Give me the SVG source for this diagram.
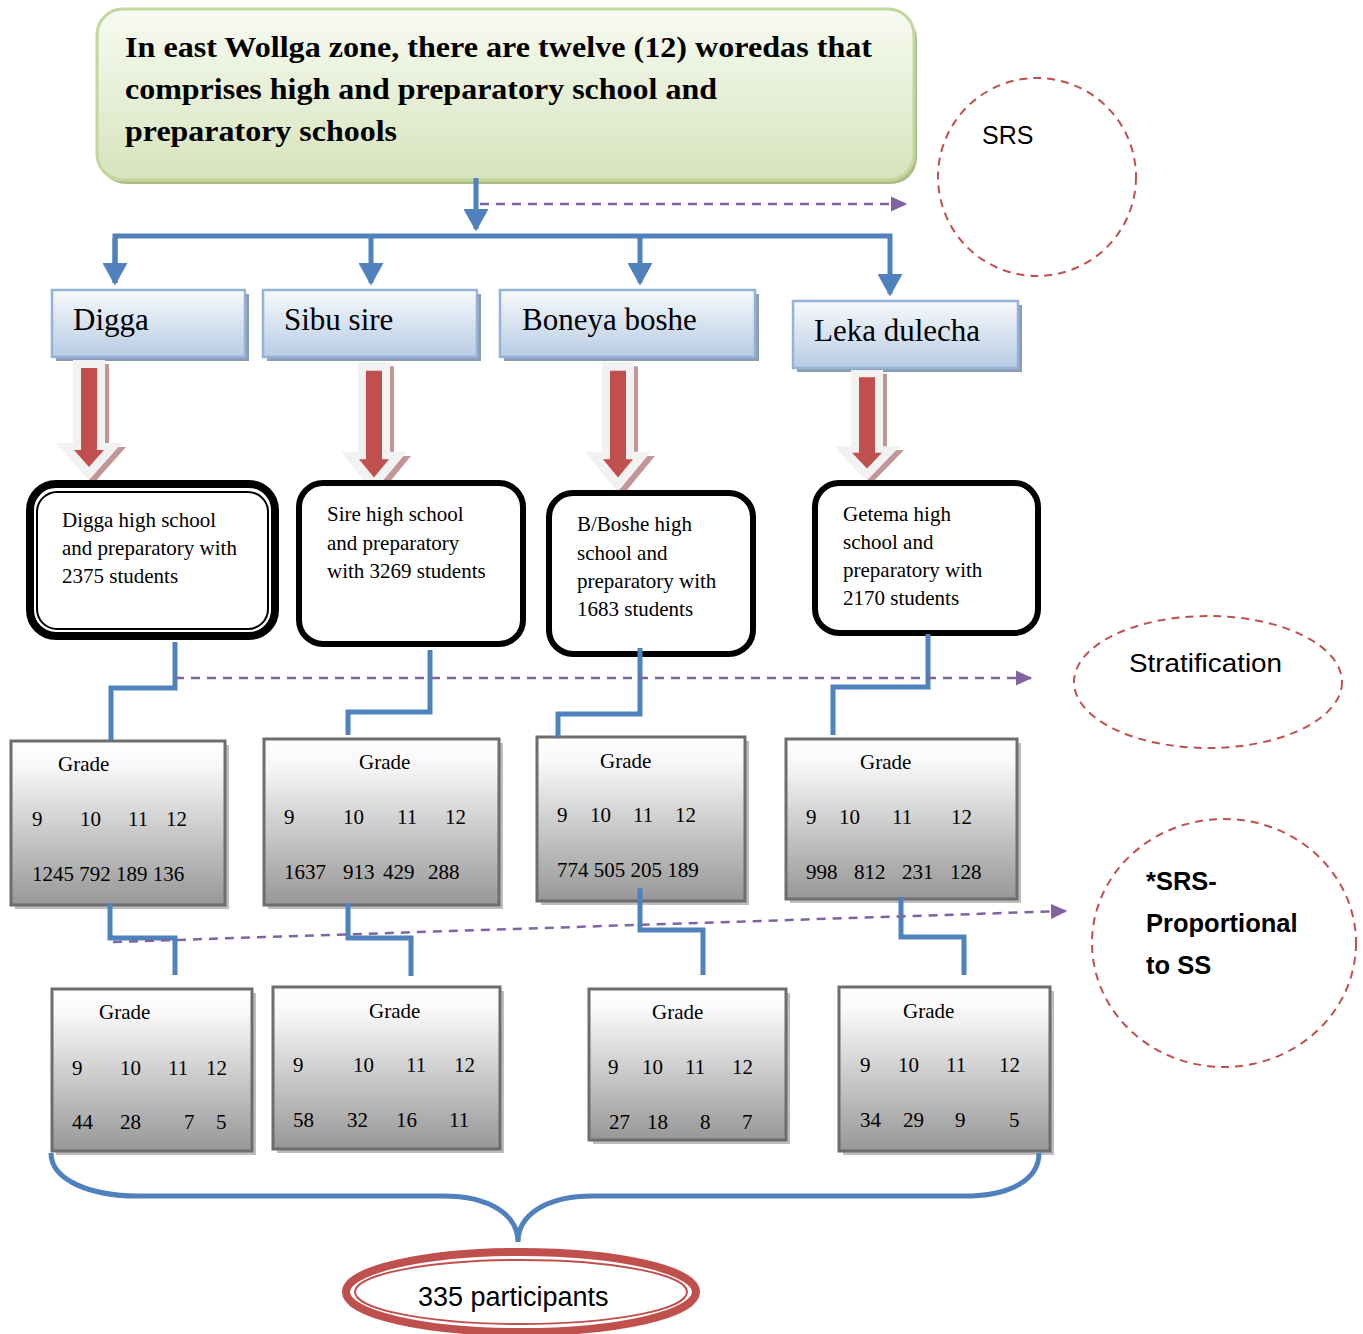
<svg xmlns="http://www.w3.org/2000/svg" xmlns:xlink="http://www.w3.org/1999/xlink" width="1363" height="1334" viewBox="0 0 1363 1334">
<defs>
<linearGradient id="gTitle" x1="0" y1="0" x2="0" y2="1">
<stop offset="0" stop-color="#f8fbf2"/><stop offset="1" stop-color="#d6e3bc"/>
</linearGradient>
<linearGradient id="gWor" x1="0" y1="0" x2="0" y2="1">
<stop offset="0" stop-color="#f7f9fc"/><stop offset="1" stop-color="#b8cce4"/>
</linearGradient>
<linearGradient id="gGrade" x1="0" y1="0" x2="0" y2="1">
<stop offset="0" stop-color="#ffffff"/><stop offset="0.15" stop-color="#f8f8f8"/><stop offset="1" stop-color="#979797"/>
</linearGradient>
<marker id="mBlue" markerWidth="5" markerHeight="5" refX="4" refY="2.5" orient="auto" markerUnits="strokeWidth">
<path d="M0,0 L4.5,2.5 L0,5 Z" fill="#4f81bd"/>
</marker>
<marker id="mPurple" markerWidth="7" markerHeight="7" refX="6" refY="3.5" orient="auto" markerUnits="strokeWidth">
<path d="M0,0.5 L6.5,3.5 L0,6.5 Z" fill="#8064a2"/>
</marker>
<g id="blockArrow">
<polygon points="-12,4 20,4 20,87 37,87 4,124 -29,87 -12,87" fill="#a86a6a" opacity="0.7"/>
<polygon points="-16,0 16,0 16,83 33,83 0,120 -33,83 -16,83" fill="#f2f2f2"/>
<polygon points="-8,8 8,8 8,90 15,90 0,107 -15,90 -8,90" fill="#c0504d"/>
</g>
<style>
.blue{fill:none;stroke:#4f81bd;stroke-width:5}
.pdash{fill:none;stroke:#8064a2;stroke-width:2.5;stroke-dasharray:9,7}
.rdash{fill:none;stroke:#c0504d;stroke-width:2;stroke-dasharray:8,6}
.serif{font-family:"Liberation Serif","Times New Roman",serif;fill:#000}
.sans{font-family:"Liberation Sans",Arial,sans-serif;fill:#000}
.wor{fill:url(#gWor);stroke:#95b3d7;stroke-width:2.5}
.worsh{fill:#8b9db5}
.grade{fill:url(#gGrade);stroke:#6d6d6d;stroke-width:3}
.gradesh{fill:#bdbdbd}
.school{fill:#fff;stroke:#000;stroke-width:6}
.wt{font-size:31px}
.st{font-size:21px}
.gt{font-size:21px}
</style>
</defs>

<!-- Title -->
<g id="title">
<rect x="100" y="13" width="817" height="171" rx="26" fill="#aebd88"/>
<rect x="97" y="9" width="817" height="171" rx="26" fill="url(#gTitle)" stroke="#c3d69b" stroke-width="3"/>
<text class="serif" font-weight="bold" font-size="29" x="125" y="57" textLength="747" lengthAdjust="spacingAndGlyphs">In east Wollga zone, there are twelve (12) woredas that</text>
<text class="serif" font-weight="bold" font-size="29" x="125" y="99" textLength="592" lengthAdjust="spacingAndGlyphs">comprises high and preparatory school and</text>
<text class="serif" font-weight="bold" font-size="29" x="125" y="141" textLength="272" lengthAdjust="spacingAndGlyphs">preparatory schools</text>
</g>

<!-- SRS circle -->
<g id="srs">
<circle cx="1037" cy="177" r="99" class="rdash"/>
<text class="sans" font-size="25" x="982" y="144">SRS</text>
</g>

<!-- Woredas -->
<g id="digga">
<rect x="56" y="294" width="193" height="67" class="worsh"/>
<rect x="52" y="290" width="193" height="67" class="wor"/>
<text class="serif wt" x="73" y="330">Digga</text>
</g>
<g id="sibusire">
<rect x="267" y="294" width="214" height="67" class="worsh"/>
<rect x="263" y="290" width="214" height="67" class="wor"/>
<text class="serif wt" x="284" y="330">Sibu sire</text>
</g>
<g id="boneya">
<rect x="504" y="294" width="255" height="67" class="worsh"/>
<rect x="500" y="290" width="255" height="67" class="wor"/>
<text class="serif wt" x="522" y="330">Boneya boshe</text>
</g>
<g id="leka">
<rect x="797" y="305" width="225" height="67" class="worsh"/>
<rect x="793" y="301" width="225" height="67" class="wor"/>
<text class="serif wt" x="814" y="341">Leka dulecha</text>
</g>

<!-- Block arrows -->
<g id="blockarrows">
<use xlink:href="#blockArrow" href="#blockArrow" transform="translate(89,360)"/>
<use xlink:href="#blockArrow" href="#blockArrow" transform="translate(374,362) scale(1,1.08)"/>
<use xlink:href="#blockArrow" href="#blockArrow" transform="translate(618,362) scale(1,1.08)"/>
<use xlink:href="#blockArrow" href="#blockArrow" transform="translate(867,370) scale(1,0.92)"/>
</g>

<!-- Schools -->
<g id="school-digga">
<rect x="30" y="484" width="245" height="152" rx="26" fill="#fff" stroke="#000" stroke-width="8"/>
<rect x="37" y="492" width="231" height="137" rx="20" fill="none" stroke="#000" stroke-width="2"/>
<text class="serif st" x="62" y="527">Digga high school</text>
<text class="serif st" x="62" y="555">and preparatory with</text>
<text class="serif st" x="62" y="583">2375 students</text>
</g>
<g id="school-sire">
<rect x="299" y="483" width="224" height="161" rx="24" class="school"/>
<text class="serif st" x="327" y="521">Sire high school</text>
<text class="serif st" x="327" y="550">and preparatory</text>
<text class="serif st" x="327" y="578">with 3269 students</text>
</g>
<g id="school-boshe">
<rect x="549" y="493" width="204" height="161" rx="24" class="school"/>
<text class="serif st" x="577" y="531">B/Boshe high</text>
<text class="serif st" x="577" y="560">school and</text>
<text class="serif st" x="577" y="588">preparatory with</text>
<text class="serif st" x="577" y="616">1683 students</text>
</g>
<g id="school-getema">
<rect x="815" y="483" width="223" height="150" rx="24" class="school"/>
<text class="serif st" x="843" y="521">Getema high</text>
<text class="serif st" x="843" y="549">school and</text>
<text class="serif st" x="843" y="577">preparatory with</text>
<text class="serif st" x="843" y="605">2170 students</text>
</g>

<!-- Stratification -->
<g id="stratification">
<ellipse cx="1208" cy="682" rx="134" ry="66" class="rdash"/>
<text class="sans" font-size="25" x="1129" y="672" textLength="153" lengthAdjust="spacingAndGlyphs">Stratification</text>
</g>

<!-- Grade row 1 -->
<g id="grade1-digga">
<rect x="15" y="745" width="214" height="164" class="gradesh"/>
<rect x="11" y="741" width="214" height="164" class="grade"/>
<text class="serif gt" x="58" y="771">Grade</text>
<text class="serif gt" y="826"><tspan x="32">9</tspan><tspan x="80">10</tspan><tspan x="128">11</tspan><tspan x="166">12</tspan></text>
<text class="serif gt" x="32" y="881">1245 792 189 136</text>
</g>
<g id="grade1-sire">
<rect x="268" y="743" width="235" height="166" class="gradesh"/>
<rect x="264" y="739" width="235" height="166" class="grade"/>
<text class="serif gt" x="359" y="769">Grade</text>
<text class="serif gt" y="824"><tspan x="284">9</tspan><tspan x="343">10</tspan><tspan x="397">11</tspan><tspan x="445">12</tspan></text>
<text class="serif gt" y="879"><tspan x="284">1637</tspan><tspan x="343">913</tspan><tspan x="383">429</tspan><tspan x="428">288</tspan></text>
</g>
<g id="grade1-boshe">
<rect x="541" y="741" width="208" height="164" class="gradesh"/>
<rect x="537" y="737" width="208" height="164" class="grade"/>
<text class="serif gt" x="600" y="768">Grade</text>
<text class="serif gt" y="822"><tspan x="557">9</tspan><tspan x="590">10</tspan><tspan x="633">11</tspan><tspan x="675">12</tspan></text>
<text class="serif gt" x="557" y="877">774 505 205 189</text>
</g>
<g id="grade1-getema">
<rect x="790" y="743" width="231" height="160" class="gradesh"/>
<rect x="786" y="739" width="231" height="160" class="grade"/>
<text class="serif gt" x="860" y="769">Grade</text>
<text class="serif gt" y="824"><tspan x="806">9</tspan><tspan x="839">10</tspan><tspan x="892">11</tspan><tspan x="951">12</tspan></text>
<text class="serif gt" y="879"><tspan x="806">998</tspan><tspan x="854">812</tspan><tspan x="902">231</tspan><tspan x="950">128</tspan></text>
</g>

<!-- SRS proportional -->
<g id="srs-prop">
<ellipse cx="1224" cy="943" rx="132" ry="124" class="rdash"/>
<text class="sans" font-weight="bold" font-size="25.5" x="1146" y="890">*SRS-</text>
<text class="sans" font-weight="bold" font-size="25.5" x="1146" y="932">Proportional</text>
<text class="sans" font-weight="bold" font-size="25.5" x="1146" y="974">to SS</text>
</g>

<!-- Grade row 2 -->
<g id="grade2-digga">
<rect x="56" y="993" width="200" height="162" class="gradesh"/>
<rect x="52" y="989" width="200" height="162" class="grade"/>
<text class="serif gt" x="99" y="1019">Grade</text>
<text class="serif gt" y="1075"><tspan x="72">9</tspan><tspan x="120">10</tspan><tspan x="168">11</tspan><tspan x="206">12</tspan></text>
<text class="serif gt" y="1129"><tspan x="72">44</tspan><tspan x="120">28</tspan><tspan x="184">7</tspan><tspan x="216">5</tspan></text>
</g>
<g id="grade2-sire">
<rect x="277" y="991" width="227" height="162" class="gradesh"/>
<rect x="273" y="987" width="227" height="162" class="grade"/>
<text class="serif gt" x="369" y="1018">Grade</text>
<text class="serif gt" y="1072"><tspan x="293">9</tspan><tspan x="353">10</tspan><tspan x="406">11</tspan><tspan x="454">12</tspan></text>
<text class="serif gt" y="1127"><tspan x="293">58</tspan><tspan x="347">32</tspan><tspan x="396">16</tspan><tspan x="449">11</tspan></text>
</g>
<g id="grade2-boshe">
<rect x="593" y="993" width="197" height="151" class="gradesh"/>
<rect x="589" y="989" width="197" height="151" class="grade"/>
<text class="serif gt" x="652" y="1019">Grade</text>
<text class="serif gt" y="1074"><tspan x="608">9</tspan><tspan x="642">10</tspan><tspan x="685">11</tspan><tspan x="732">12</tspan></text>
<text class="serif gt" y="1129"><tspan x="609">27</tspan><tspan x="647">18</tspan><tspan x="700">8</tspan><tspan x="742">7</tspan></text>
</g>
<g id="grade2-getema">
<rect x="843" y="991" width="211" height="164" class="gradesh"/>
<rect x="839" y="987" width="211" height="164" class="grade"/>
<text class="serif gt" x="903" y="1018">Grade</text>
<text class="serif gt" y="1072"><tspan x="860">9</tspan><tspan x="898">10</tspan><tspan x="946">11</tspan><tspan x="999">12</tspan></text>
<text class="serif gt" y="1127"><tspan x="860">34</tspan><tspan x="903">29</tspan><tspan x="955">9</tspan><tspan x="1009">5</tspan></text>
</g>

<!-- Participants -->
<g id="participants">
<ellipse cx="521" cy="1292" rx="175" ry="40" fill="#fff" stroke="#c0504d" stroke-width="8"/>
<ellipse cx="521" cy="1292" rx="166" ry="32" fill="none" stroke="#c0504d" stroke-width="2"/>
<text class="sans" font-size="27" x="418" y="1306">335 participants</text>
</g>

<!-- Connectors -->
<g id="connectors">
<line x1="476" y1="178" x2="476" y2="229" class="blue" marker-end="url(#mBlue)"/>
<polyline points="115,283 115,236 890,236 890,294" class="blue" marker-end="url(#mBlue)"/>
<line x1="115" y1="238" x2="115" y2="283" class="blue" marker-end="url(#mBlue)"/>
<line x1="371" y1="236" x2="371" y2="283" class="blue" marker-end="url(#mBlue)"/>
<line x1="640" y1="236" x2="640" y2="283" class="blue" marker-end="url(#mBlue)"/>
<line x1="480" y1="204" x2="906" y2="204" class="pdash" marker-end="url(#mPurple)"/>

<polyline points="175,642 175,688 111,688 111,740" class="blue"/>
<polyline points="430,650 430,712 348,712 348,735" class="blue"/>
<polyline points="640,648 640,714 558,714 558,737" class="blue"/>
<polyline points="928,634 928,687 833,687 833,735" class="blue"/>
<line x1="175" y1="678" x2="1031" y2="678" class="pdash" marker-end="url(#mPurple)"/>

<polyline points="110,903 110,938 175,938 175,975" class="blue"/>
<polyline points="348,903 348,938 411,938 411,976" class="blue"/>
<polyline points="640,888 640,930 703,930 703,975" class="blue"/>
<polyline points="901,897 901,937 964,937 964,975" class="blue"/>
<line x1="113" y1="942" x2="1066" y2="911" class="pdash" marker-end="url(#mPurple)"/>

<path d="M51,1153 C51,1180 90,1196 138,1196 L443,1196 C490,1196 518,1215 518,1242 C518,1215 546,1196 593,1196 L964,1196 C1010,1196 1039,1180 1039,1153" class="blue"/>
</g>
</svg>
